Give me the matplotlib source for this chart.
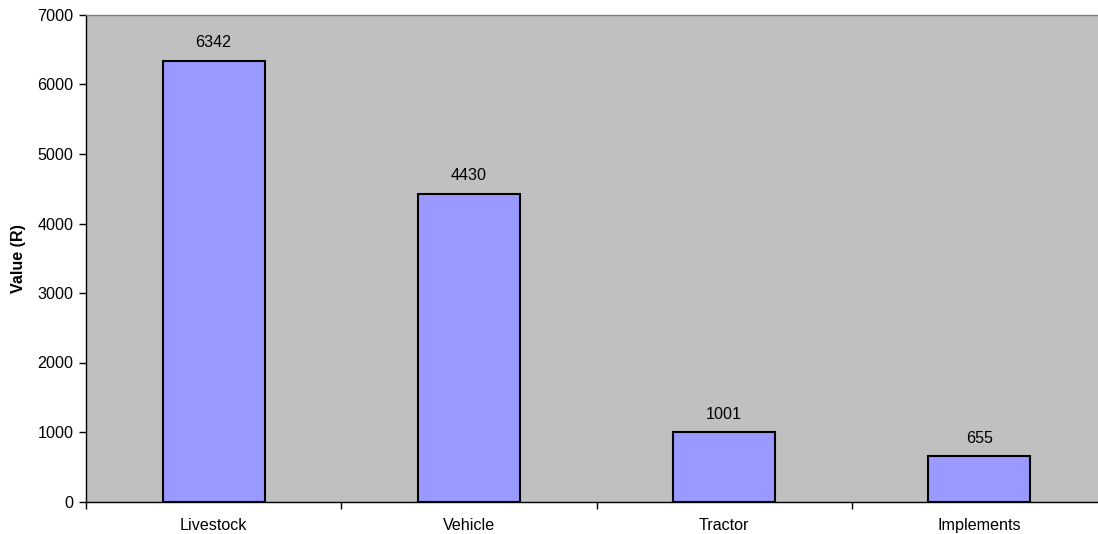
import matplotlib
matplotlib.use("Agg")
import matplotlib.pyplot as plt
import numpy as np

categories = ["Livestock", "Vehicle", "Tractor", "Implements"]
values = [6342, 4430, 1001, 655]
yticks = [0, 1000, 2000, 3000, 4000, 5000, 6000, 7000]

plt.rcParams['font.family'] = ['Liberation Sans', 'DejaVu Sans']
FS = 11.6

fig = plt.figure(figsize=(10.98, 5.34), dpi=100)
fig.patch.set_facecolor('white')
ax = fig.add_axes([86/1098, 1 - 501.5/534, 1021/1098, (501.5 - 15)/534])
ax.set_facecolor('#C0C0C0')

x = np.arange(len(categories))
ax.bar(x, values, width=0.40, color='#9999FF', edgecolor='black', linewidth=1.5, zorder=3)
for xi, v in zip(x, values):
    ax.annotate(str(v), (xi, v), xytext=(0, 7.5), textcoords='offset points',
                ha='center', va='bottom', fontsize=FS)

ax.set_xlim(-0.5, len(categories) - 0.5)
ax.set_ylim(0, 7000)
ax.set_yticks(yticks)
ax.set_yticklabels([str(t) for t in yticks], fontsize=FS)
ax.set_xticks(x)
ax.set_xticklabels(categories, fontsize=FS)
ax.tick_params(axis='x', length=0, pad=12)
ax.set_xticks(np.arange(-0.5, len(categories) + 0.5, 1), minor=True)
ax.tick_params(axis='x', which='minor', length=5, width=1, color='black')
ax.tick_params(axis='y', length=5, width=1, color='black', pad=4)

ax.set_ylabel("Value (R)", fontsize=FS, fontweight='bold', labelpad=8)

for s in ['left', 'bottom']:
    ax.spines[s].set_color('black')
    ax.spines[s].set_linewidth(1)
ax.spines['top'].set_color('#808080')
ax.spines['top'].set_linewidth(1)
ax.spines['right'].set_visible(False)

fig.savefig('out.png', dpi=100, facecolor='white')
